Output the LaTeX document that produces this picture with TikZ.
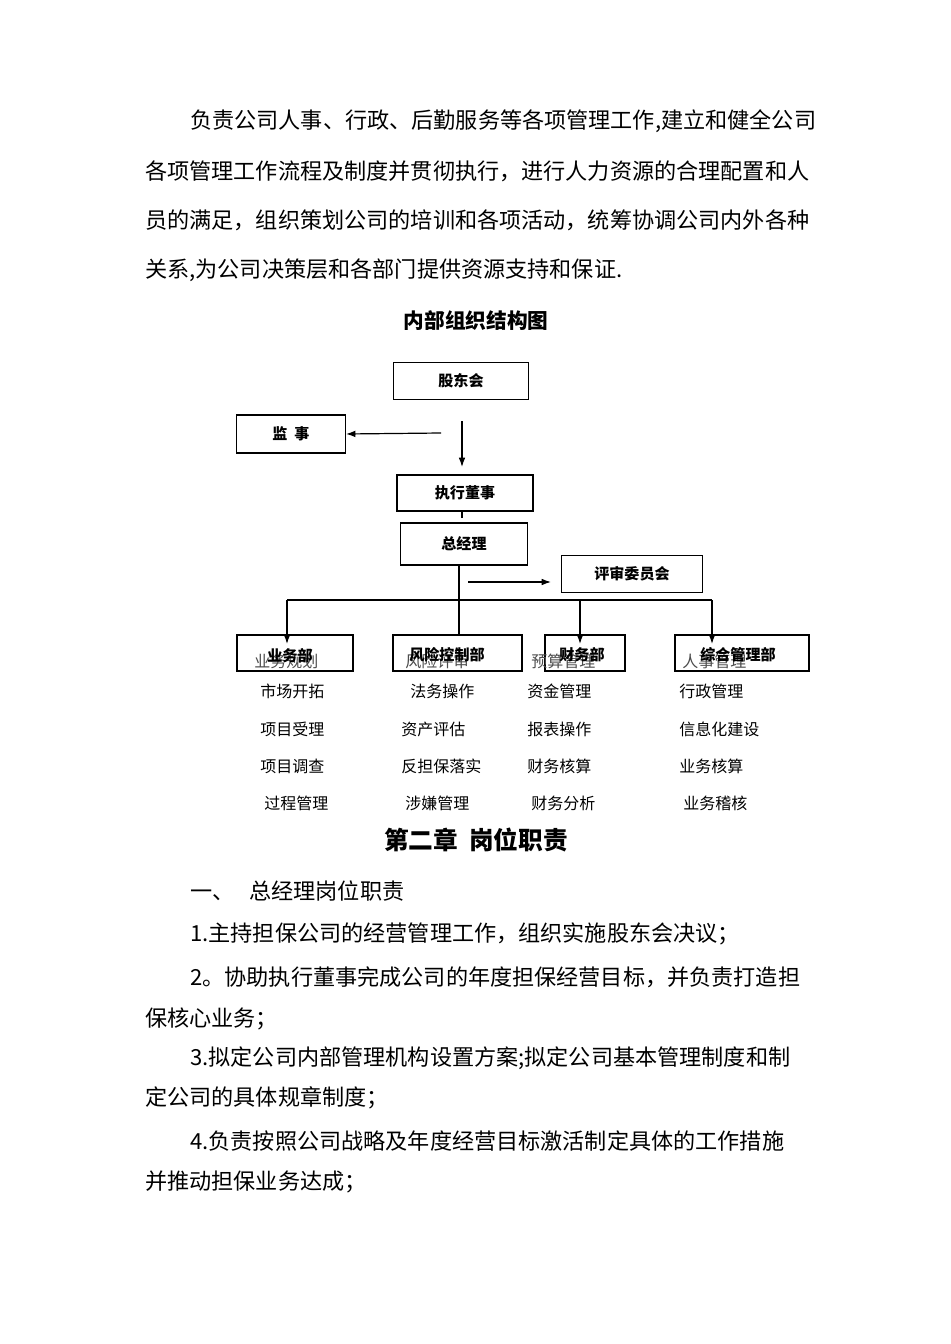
\documentclass[tikz,border=0pt]{standalone}
\usepackage{fontspec}
\setmainfont{Noto Sans CJK SC}
\usetikzlibrary{arrows.meta}
\begin{document}
\begin{tikzpicture}[x=0.75pt,y=-0.75pt,
 body/.style={anchor=west,inner sep=0,font=\fontsize{16.6}{18}\selectfont},
 box/.style={draw,line width=0.8pt,inner sep=0,font=\fontsize{11.3}{12}\selectfont\bfseries},
 item/.style={anchor=west,inner sep=0,font=\fontsize{12}{13}\selectfont},
 gitem/.style={item,text=gray!60!black},
 arr/.style={-{Latex[length=7pt,width=5pt]},line width=0.9pt},
 ln/.style={line width=0.9pt}]
\useasboundingbox (0,0) rectangle (950,1344);
\fill[white] (0,0) rectangle (950,1344);
% top paragraph
\node[body] (p1) at (190,121) {负责公司人事、行政、后勤服务等各项管理工作,建立和健全公司};
\node[body] (p2) at (145,171) {各项管理工作流程及制度并贯彻执行，进行人力资源的合理配置和人};
\node[body] (p3) at (145,220) {员的满足，组织策划公司的培训和各项活动，统筹协调公司内外各种};
\node[body] (p4) at (145,270) {关系,为公司决策层和各部门提供资源支持和保证.};
\node[inner sep=0,font=\fontsize{15.5}{16}\selectfont\bfseries] (title) at (476,321) {内部组织结构图};
% boxes
\node[box,minimum width=135*0.75pt,minimum height=37*0.75pt] (gd) at (461,381) {股东会};
\node[box,minimum width=109*0.75pt,minimum height=38*0.75pt] (js) at (291,434) {监\ \ 事};
\node[box,minimum width=136*0.75pt,minimum height=36*0.75pt] (zx) at (465,493) {执行董事};
\node[box,minimum width=127*0.75pt,minimum height=42*0.75pt] (zjl) at (464,544) {总经理};
\node[box,minimum width=141*0.75pt,minimum height=37*0.75pt] (ps) at (632,574) {评审委员会};
\coordinate (a1) at (441,433); \coordinate (a2) at (462,421); \coordinate (a3) at (468,582);
\coordinate (a4) at (551,582);
\draw[arr] (a1) -- (js.east);
\draw[arr] (a2) -- (462,467);
\draw[ln] (462,518) -- (zx.south -| 462,0) ;
\draw[arr] (a3) -- (a4);
% departments
\node[box,minimum width=116*0.75pt,minimum height=36*0.75pt] (yw) at (295,653) {};
\node[box,minimum width=129*0.75pt,minimum height=36*0.75pt] (fx) at (457.5,653) {};
\node[box,minimum width=80*0.75pt,minimum height=36*0.75pt] (cw) at (585,653) {};
\node[box,minimum width=134*0.75pt,minimum height=36*0.75pt] (zh) at (742,653) {};
\draw[ln] (zjl.south -| 459,0) -- (459,635);
\draw[ln] (287,600) -- (712,600);
\draw[arr] (287,600) -- (287,644);
\draw[arr] (580,600) -- (580,644);
\draw[arr] (712,600) -- (712,644);
\node[gitem] (g1) at (254,661) {业务规划};
\node[gitem] (g2) at (405,661) {风险评审};
\node[gitem] (g3) at (531,661) {预算管理};
\node[gitem] (g4) at (682,661) {人事管理};
\node[inner sep=0,font=\fontsize{11.3}{12}\selectfont\bfseries] at (290,656) {业务部};
\node[inner sep=0,font=\fontsize{11.3}{12}\selectfont\bfseries] at (447,655) {风险控制部};
\node[inner sep=0,font=\fontsize{11.3}{12}\selectfont\bfseries] at (582,655) {财务部};
\node[inner sep=0,font=\fontsize{11.3}{12}\selectfont\bfseries] at (738,655) {综合管理部};
% items
\node[item] at (260,691) {市场开拓};
\node[item] at (260,729) {项目受理};
\node[item] at (260,766) {项目调查};
\node[item] at (264,803) {过程管理};
\node[item] at (410,691) {法务操作};
\node[item] at (401,729) {资产评估};
\node[item] at (401,766) {反担保落实};
\node[item] at (405,803) {涉嫌管理};
\node[item] at (527,691) {资金管理};
\node[item] at (527,729) {报表操作};
\node[item] at (527,766) {财务核算};
\node[item] at (531,803) {财务分析};
\node[item] at (679,691) {行政管理};
\node[item] at (679,729) {信息化建设};
\node[item] at (679,766) {业务核算};
\node[item] at (683,803) {业务稽核};
% chapter
\node[inner sep=0,font=\fontsize{18.5}{20}\selectfont\bfseries] (ch) at (476,840) {第二章\ \ 岗位职责};
\node[body] at (190,891) {一、\ \ \ 总经理岗位职责};
\node[body] at (190,934) {1.主持担保公司的经营管理工作，组织实施股东会决议；};
\node[body] at (190,977) {2。协助执行董事完成公司的年度担保经营目标，并负责打造担};
\node[body] at (145,1019) {保核心业务；};
\node[body] at (190,1058) {3.拟定公司内部管理机构设置方案;拟定公司基本管理制度和制};
\node[body] at (145,1098) {定公司的具体规章制度；};
\node[body] at (190,1141) {4.负责按照公司战略及年度经营目标激活制定具体的工作措施};
\node[body] at (145,1182) {并推动担保业务达成；};
\end{tikzpicture}
\end{document}
